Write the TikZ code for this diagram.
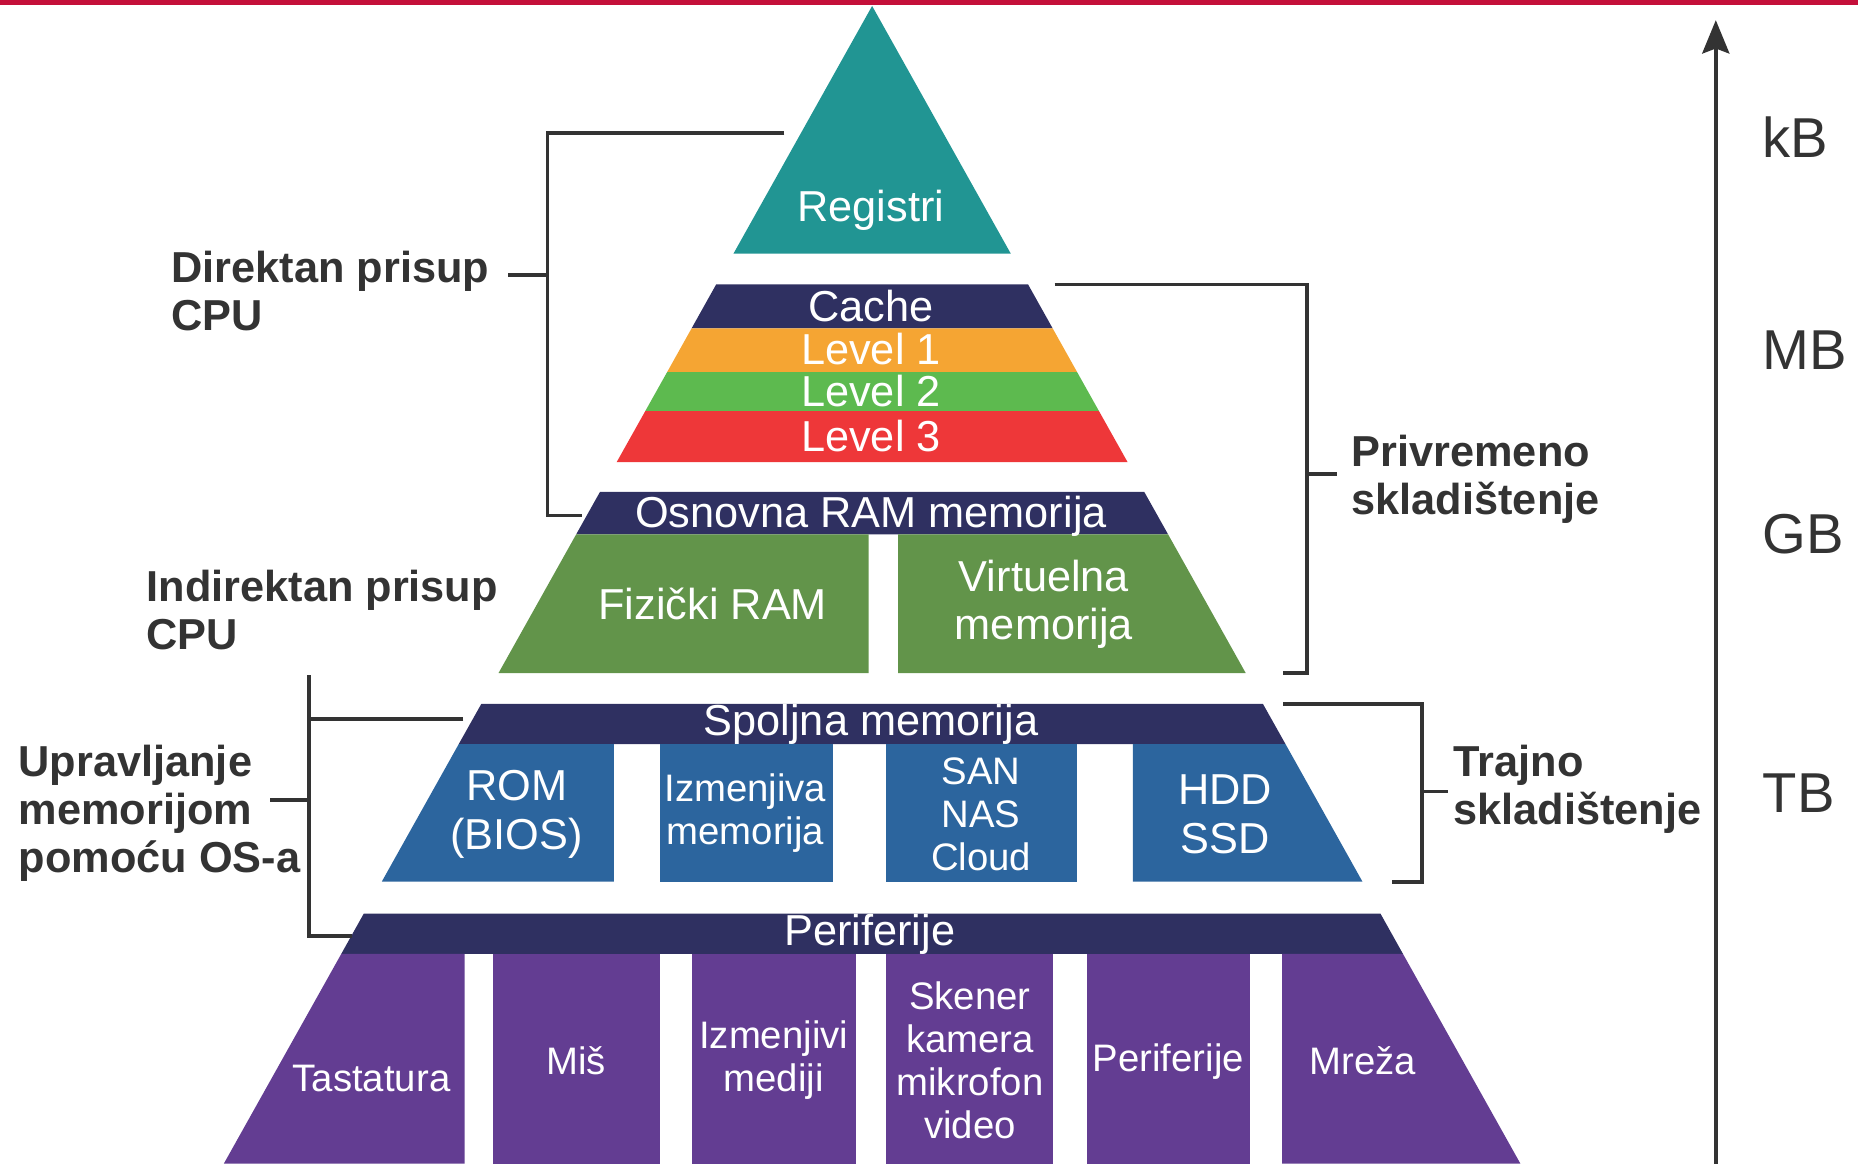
\documentclass[tikz,border=0pt]{standalone}
\usepackage{fontspec}
\setmainfont{Liberation Sans}
\usepackage{xcolor}
\usetikzlibrary{arrows.meta, calc, positioning}
\definecolor{topred}{RGB}{196,16,58}
\definecolor{regteal}{RGB}{33,149,147}
\definecolor{bandnavy}{RGB}{47,48,97}
\definecolor{lvlorange}{RGB}{245,165,51}
\definecolor{lvlgreen}{RGB}{93,186,79}
\definecolor{lvlred}{RGB}{238,55,57}
\definecolor{ramgreen}{RGB}{98,148,74}
\definecolor{extblue}{RGB}{44,101,158}
\definecolor{perpurple}{RGB}{99,61,146}
\colorlet{txtgrey}{black!80}

\tikzset{
    lbl/.style = {text = white, inner sep = 0pt, align = center, anchor = base,
        font = \fontsize{10.4}{11.7}\selectfont},
    sublbl/.style = {text = white, inner sep = 0pt, align = center, anchor = base,
        font = \fontsize{9.2}{10.3}\selectfont},
    side/.style = {text = txtgrey, inner sep = 0pt, align = left, anchor = base west,
        font = \bfseries\fontsize{10.4}{11.5}\selectfont},
    unit/.style = {text = txtgrey, inner sep = 0pt, anchor = base west,
        font = \fontsize{13.5}{15}\selectfont},
    brace/.style = {draw = txtgrey, line width = 0.9pt},
}

\begin{document}
\begin{tikzpicture}[x = 0.1mm, y = -0.1mm]%{{{
        \useasboundingbox (0, 0) rectangle (1568, 982);
        \fill [topred] (0, 0) rectangle (1568, 4);

        % pyramid
        \fill [regteal] (736, 5) -- (853, 214) -- (619, 214) -- cycle;

        \fill [bandnavy] (604.4, 240) -- (867.6, 240) -- (888.3, 277) -- (583.7, 277) -- cycle;
        \fill [lvlorange] (583.7, 277) -- (888.3, 277) -- (909, 314) -- (563, 314) -- cycle;
        \fill [lvlgreen] (563, 314) -- (909, 314) -- (927.5, 347) -- (544.5, 347) -- cycle;
        \fill [lvlred] (544.5, 347) -- (927.5, 347) -- (951.6, 390) -- (520.4, 390) -- cycle;

        \fill [bandnavy] (506.4, 415) -- (965.6, 415) -- (985.8, 451) -- (486.2, 451) -- cycle;
        \fill [ramgreen] (486.2, 451) -- (733, 451) -- (733, 568) -- (420.7, 568) -- cycle;
        \fill [ramgreen] (758, 451) -- (985.8, 451) -- (1051.3, 568) -- (758, 568) -- cycle;

        \fill [bandnavy] (406.2, 594) -- (1065.8, 594) -- (1084.9, 628) -- (387.1, 628) -- cycle;
        \fill [extblue] (387.1, 628) -- (518, 628) -- (518, 744) -- (322.2, 744) -- cycle;
        \fill [extblue] (557, 628) rectangle (703, 744);
        \fill [extblue] (748, 628) rectangle (909, 744);
        \fill [extblue] (956, 628) -- (1084.9, 628) -- (1149.8, 744) -- (956, 744) -- cycle;

        \fill [bandnavy] (307, 771) -- (1165, 771) -- (1184, 805) -- (288, 805) -- cycle;
        \fill [perpurple] (288, 805) -- (392, 805) -- (392, 982) -- (188.9, 982) -- cycle;
        \fill [perpurple] (416, 805) rectangle (557, 982);
        \fill [perpurple] (584, 805) rectangle (722, 982);
        \fill [perpurple] (748, 805) rectangle (889, 982);
        \fill [perpurple] (917, 805) rectangle (1055, 982);
        \fill [perpurple] (1082, 805) -- (1184, 805) -- (1283.1, 982) -- (1082, 982) -- cycle;

        % texts in the pyramid (base = last line)
        \node (REG) [lbl] at (735, 186.5) {Registri};
        \node (CACHE) [lbl] at (735, 271) {Cache};
        \node (L1) [lbl] at (735, 308) {Level 1};
        \node (L2) [lbl] at (735, 343) {Level 2};
        \node (L3) [lbl] at (735, 381) {Level 3};
        \node (RAM) [lbl] at (735, 445) {Osnovna RAM memorija};
        \node (FIZ) [lbl] at (601.5, 523) {Fizički RAM};
        \node (VIRT) [lbl, font = \fontsize{10.4}{11.6}\selectfont] at (881, 540) {Virtuelna\\memorija};
        \node (SPOLJ) [lbl] at (735, 621) {Spoljna memorija};
        \node (ROM) [lbl] at (436, 716.5) {ROM\\(BIOS)};
        \node (IZM) [sublbl] at (629, 713) {Izmenjiva\\memorija};
        \node (SAN) [sublbl, font = \fontsize{9.2}{10.4}\selectfont] at (828, 735) {SAN\\NAS\\Cloud};
        \node (HDD) [lbl] at (1034, 720) {HDD\\SSD};
        \node (PER) [lbl] at (734, 797.5) {Periferije};
        \node (TAST) [sublbl] at (313.5, 921) {Tastatura};
        \node (MIS) [sublbl] at (486, 907) {Miš};
        \node (IZMM) [sublbl] at (653, 921) {Izmenjivi\\mediji};
        \node (SKEN) [sublbl] at (818.5, 960.5) {Skener\\kamera\\mikrofon\\video};
        \node (PERI) [sublbl] at (986, 904) {Periferije};
        \node (MREZA) [sublbl] at (1150, 907) {Mreža};

        % side labels
        \node (DIR) [side] at (144, 279) {Direktan prisup\\CPU};
        \node (INDIR) [side] at (123, 548) {Indirektan prisup\\CPU};
        \node (UPR) [side] at (15, 736.5) {Upravljanje\\memorijom\\pomoću OS-a};
        \node (PRIV) [side] at (1140, 434) {Privremeno\\skladištenje};
        \node (TRAJ) [side] at (1226, 695.5) {Trajno\\skladištenje};

        % brackets
        \coordinate (DIRtop) at (662, 112);
        \coordinate (DIRbot) at (491, 435);
        \coordinate (DIRtick) at (462, 232);
        \draw [brace] (DIRtop) -- ++(-200, 0) |- (DIRbot);
        \draw [brace] (DIRtick) -- ++(-33, 0);

        \coordinate (PRIVtop) at (890, 240);
        \coordinate (PRIVbot) at (1083, 568);
        \coordinate (PRIVtick) at (1103, 400);
        \draw [brace] (PRIVtop) -- ++(213, 0) |- (PRIVbot);
        \draw [brace] (PRIVtick) -- ++(25, 0);

        \coordinate (TRAJtop) at (1083, 594);
        \coordinate (TRAJbot) at (1175, 744);
        \coordinate (TRAJtick) at (1200, 668);
        \draw [brace] (TRAJtop) -- ++(117, 0) |- (TRAJbot);
        \draw [brace] (TRAJtick) -- ++(22, 0);

        \coordinate (UPRtop) at (261, 570);
        \coordinate (UPRbot) at (297, 790);
        \coordinate (UPRmid) at (391, 607);
        \coordinate (UPRtick) at (261, 675);
        \draw [brace] (UPRtop) |- (UPRbot);
        \draw [brace] (UPRmid) -- (UPRmid -| UPRtop);
        \draw [brace] (UPRtick) -- ++(-33, 0);

        % size axis
        \coordinate (AXbot) at (1448, 982);
        \coordinate (AXtop) at (1448, 17);
        \draw [txtgrey, line width = 0.9pt, -{Stealth[length = 8pt, width = 6.5pt, inset = 1.2pt]}] (AXbot) -- (AXtop);
        \node (KB) [unit] at (1487, 133) {kB};
        \node (MB) [unit] at (1487, 312) {MB};
        \node (GB) [unit] at (1487, 467) {GB};
        \node (TB) [unit] at (1487, 686) {TB};
\end{tikzpicture}
\end{document}
